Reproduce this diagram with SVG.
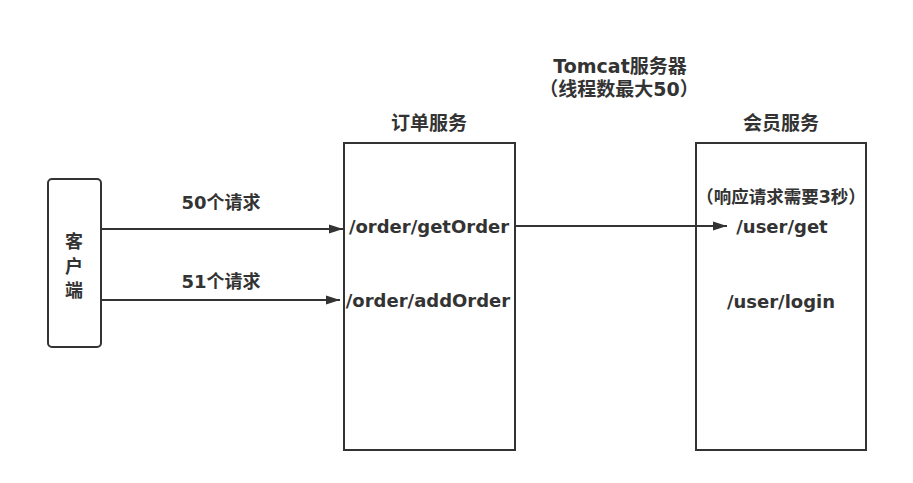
<svg xmlns="http://www.w3.org/2000/svg" width="913" height="483" viewBox="0 0 913 483">
<style>
.t{font-family:"DejaVu Sans","Noto Sans CJK SC",sans-serif;font-weight:bold;fill:#333;text-anchor:middle;dominant-baseline:central}
.b{fill:#fff;stroke:#333;stroke-width:2}
.c{stroke:#333;stroke-width:2;fill:none}
</style>
<defs>
<marker id="a" viewBox="0 0 14 10" refX="14" refY="5" markerWidth="14" markerHeight="10" markerUnits="userSpaceOnUse" orient="auto">
<path d="M0,0.5 L14,5 L0,9.5 Z" fill="#333"/>
</marker>
</defs>
<rect width="913" height="483" fill="#fff"/>
<g id="title">
<text class="t" x="620" y="66" font-size="19">Tomcat服务器</text>
<text class="t" x="619" y="89" font-size="19">（线程数最大50）</text>
</g>
<g id="client">
<rect class="b" x="48" y="179" width="53" height="168" rx="4"/>
<text class="t" x="74" y="241" font-size="18">客</text>
<text class="t" x="74" y="266" font-size="18">户</text>
<text class="t" x="74" y="290" font-size="18">端</text>
</g>
<g id="order">
<text class="t" x="429" y="123" font-size="19">订单服务</text>
<rect class="b" x="344" y="143" width="171" height="307"/>
<text class="t" x="429" y="226" font-size="18">/order/getOrder</text>
<text class="t" x="428" y="300" font-size="18">/order/addOrder</text>
</g>
<g id="user">
<text class="t" x="781" y="123" font-size="19">会员服务</text>
<rect class="b" x="696" y="143" width="170" height="307"/>
<text class="t" x="781" y="197" font-size="17.5">（响应请求需要3秒）</text>
<text class="t" x="782" y="226" font-size="18">/user/get</text>
<text class="t" x="781" y="301" font-size="18">/user/login</text>
</g>
<g id="connectors">
<line class="c" x1="101" y1="229" x2="343" y2="229" marker-end="url(#a)"/>
<line class="c" x1="101" y1="300" x2="340" y2="300" marker-end="url(#a)"/>
<line class="c" x1="515" y1="226" x2="727" y2="226" marker-end="url(#a)"/>
<text class="t" x="221" y="202" font-size="18">50个请求</text>
<text class="t" x="221" y="281" font-size="18">51个请求</text>
</g>
</svg>
